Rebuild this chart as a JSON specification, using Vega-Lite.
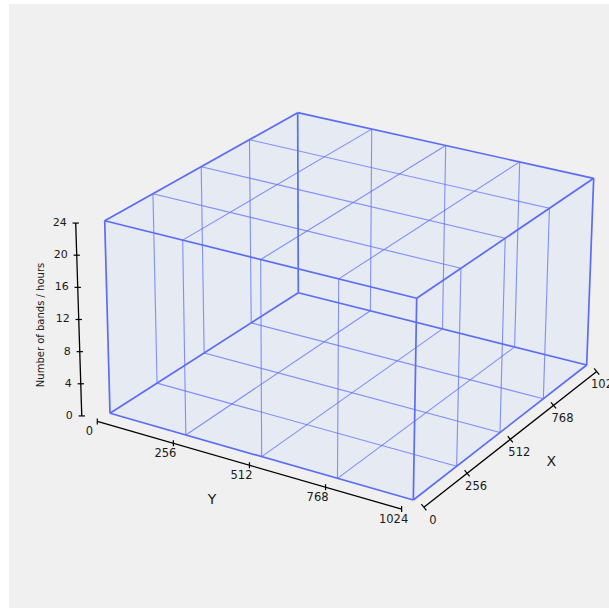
{
  "$schema": "https://vega.github.io/schema/vega-lite/v6.json",
  "width": 600,
  "height": 604,
  "autosize": {"type": "none"},
  "padding": {"left": 9, "top": 4, "right": 0, "bottom": 0},
  "background": "white",
  "view": {"fill": "#f0f0f0", "stroke": null},
  "data": {"values": [
    {"k":"h","o":1,"Y":0,"X":0,"Z":0},
    {"k":"h","o":2,"Y":1024,"X":0,"Z":0},
    {"k":"h","o":3,"Y":1024,"X":1024,"Z":0},
    {"k":"h","o":4,"Y":1024,"X":1024,"Z":24},
    {"k":"h","o":5,"Y":0,"X":1024,"Z":24},
    {"k":"h","o":6,"Y":0,"X":0,"Z":24},

    {"k":"e","Y":0,"X":0,"Z":0,"Y2":1024,"X2":0,"Z2":0},
    {"k":"e","Y":1024,"X":0,"Z":0,"Y2":1024,"X2":1024,"Z2":0},
    {"k":"e","Y":1024,"X":1024,"Z":0,"Y2":0,"X2":1024,"Z2":0},
    {"k":"e","Y":0,"X":1024,"Z":0,"Y2":0,"X2":0,"Z2":0},
    {"k":"e","Y":0,"X":0,"Z":24,"Y2":1024,"X2":0,"Z2":24},
    {"k":"e","Y":1024,"X":0,"Z":24,"Y2":1024,"X2":1024,"Z2":24},
    {"k":"e","Y":1024,"X":1024,"Z":24,"Y2":0,"X2":1024,"Z2":24},
    {"k":"e","Y":0,"X":1024,"Z":24,"Y2":0,"X2":0,"Z2":24},
    {"k":"e","Y":0,"X":0,"Z":0,"Y2":0,"X2":0,"Z2":24},
    {"k":"e","Y":1024,"X":0,"Z":0,"Y2":1024,"X2":0,"Z2":24},
    {"k":"e","Y":1024,"X":1024,"Z":0,"Y2":1024,"X2":1024,"Z2":24},
    {"k":"e","Y":0,"X":1024,"Z":0,"Y2":0,"X2":1024,"Z2":24},

    {"k":"g","Y":256,"X":0,"Z":0,"Y2":256,"X2":1024,"Z2":0},
    {"k":"g","Y":512,"X":0,"Z":0,"Y2":512,"X2":1024,"Z2":0},
    {"k":"g","Y":768,"X":0,"Z":0,"Y2":768,"X2":1024,"Z2":0},
    {"k":"g","Y":0,"X":256,"Z":0,"Y2":1024,"X2":256,"Z2":0},
    {"k":"g","Y":0,"X":512,"Z":0,"Y2":1024,"X2":512,"Z2":0},
    {"k":"g","Y":0,"X":768,"Z":0,"Y2":1024,"X2":768,"Z2":0},
    {"k":"g","Y":256,"X":0,"Z":24,"Y2":256,"X2":1024,"Z2":24},
    {"k":"g","Y":512,"X":0,"Z":24,"Y2":512,"X2":1024,"Z2":24},
    {"k":"g","Y":768,"X":0,"Z":24,"Y2":768,"X2":1024,"Z2":24},
    {"k":"g","Y":0,"X":256,"Z":24,"Y2":1024,"X2":256,"Z2":24},
    {"k":"g","Y":0,"X":512,"Z":24,"Y2":1024,"X2":512,"Z2":24},
    {"k":"g","Y":0,"X":768,"Z":24,"Y2":1024,"X2":768,"Z2":24},
    {"k":"g","Y":256,"X":0,"Z":0,"Y2":256,"X2":0,"Z2":24},
    {"k":"g","Y":512,"X":0,"Z":0,"Y2":512,"X2":0,"Z2":24},
    {"k":"g","Y":768,"X":0,"Z":0,"Y2":768,"X2":0,"Z2":24},
    {"k":"g","Y":256,"X":1024,"Z":0,"Y2":256,"X2":1024,"Z2":24},
    {"k":"g","Y":512,"X":1024,"Z":0,"Y2":512,"X2":1024,"Z2":24},
    {"k":"g","Y":768,"X":1024,"Z":0,"Y2":768,"X2":1024,"Z2":24},
    {"k":"g","Y":0,"X":256,"Z":0,"Y2":0,"X2":256,"Z2":24},
    {"k":"g","Y":0,"X":512,"Z":0,"Y2":0,"X2":512,"Z2":24},
    {"k":"g","Y":0,"X":768,"Z":0,"Y2":0,"X2":768,"Z2":24},
    {"k":"g","Y":1024,"X":256,"Z":0,"Y2":1024,"X2":256,"Z2":24},
    {"k":"g","Y":1024,"X":512,"Z":0,"Y2":1024,"X2":512,"Z2":24},
    {"k":"g","Y":1024,"X":768,"Z":0,"Y2":1024,"X2":768,"Z2":24},

    {"k":"a","Y":-56,"X":-63,"Z":0,"Y2":-56,"X2":-63,"Z2":24},
    {"k":"a","Y":0,"X":-69,"Z":0,"Y2":1024,"X2":-69,"Z2":0},
    {"k":"a","Y":1060,"X":0,"Z":-0.5,"Y2":1060,"X2":1024,"Z2":-0.5},

    {"k":"zt","t":"0","Y":-56,"X":-63,"Z":0},
    {"k":"zt","t":"4","Y":-56,"X":-63,"Z":4},
    {"k":"zt","t":"8","Y":-56,"X":-63,"Z":8},
    {"k":"zt","t":"12","Y":-56,"X":-63,"Z":12},
    {"k":"zt","t":"16","Y":-56,"X":-63,"Z":16},
    {"k":"zt","t":"20","Y":-56,"X":-63,"Z":20},
    {"k":"zt","t":"24","Y":-56,"X":-63,"Z":24},
    {"k":"yt","t":"0","Y":0,"X":-69,"Z":0},
    {"k":"yt","t":"256","Y":256,"X":-69,"Z":0},
    {"k":"yt","t":"512","Y":512,"X":-69,"Z":0},
    {"k":"yt","t":"768","Y":768,"X":-69,"Z":0},
    {"k":"yt","t":"1024","Y":1024,"X":-69,"Z":0},
    {"k":"xt","t":"0","Y":1060,"X":0,"Z":-0.5},
    {"k":"xt","t":"256","Y":1060,"X":256,"Z":-0.5},
    {"k":"xt","t":"512","Y":1060,"X":512,"Z":-0.5},
    {"k":"xt","t":"768","Y":1060,"X":768,"Z":-0.5},
    {"k":"xt","t":"1024","Y":1060,"X":1024,"Z":-0.5},

    {"k":"zT","t":"Number of bands / hours","Y":-56,"X":-63,"Z":12},
    {"k":"yT","t":"Y","Y":512,"X":-69,"Z":0},
    {"k":"xT","t":"X","Y":1060,"X":512,"Z":-0.5}
  ]},
  "transform": [
    {"calculate": "datum.Y/1024", "as": "u"},
    {"calculate": "datum.X/1024", "as": "v"},
    {"calculate": "datum.Z/24", "as": "w"},
    {"calculate": "datum.Y2/1024", "as": "u2"},
    {"calculate": "datum.X2/1024", "as": "v2"},
    {"calculate": "datum.Z2/24", "as": "w2"},
    {"calculate": "(1-datum.w)*((1-datum.u)*(1-datum.v)*110+datum.u*(1-datum.v)*413.3+datum.u*datum.v*586.7+(1-datum.u)*datum.v*298.3)+datum.w*((1-datum.u)*(1-datum.v)*104.7+datum.u*(1-datum.v)*416.7+datum.u*datum.v*593.7+(1-datum.u)*datum.v*297.7)", "as": "px"},
    {"calculate": "(1-datum.w)*((1-datum.u)*(1-datum.v)*413.3+datum.u*(1-datum.v)*500+datum.u*datum.v*365+(1-datum.u)*datum.v*292.7)+datum.w*((1-datum.u)*(1-datum.v)*220.7+datum.u*(1-datum.v)*298.3+datum.u*datum.v*178.3+(1-datum.u)*datum.v*112.7)", "as": "py"},
    {"calculate": "(1-datum.w2)*((1-datum.u2)*(1-datum.v2)*110+datum.u2*(1-datum.v2)*413.3+datum.u2*datum.v2*586.7+(1-datum.u2)*datum.v2*298.3)+datum.w2*((1-datum.u2)*(1-datum.v2)*104.7+datum.u2*(1-datum.v2)*416.7+datum.u2*datum.v2*593.7+(1-datum.u2)*datum.v2*297.7)", "as": "px2"},
    {"calculate": "(1-datum.w2)*((1-datum.u2)*(1-datum.v2)*413.3+datum.u2*(1-datum.v2)*500+datum.u2*datum.v2*365+(1-datum.u2)*datum.v2*292.7)+datum.w2*((1-datum.u2)*(1-datum.v2)*220.7+datum.u2*(1-datum.v2)*298.3+datum.u2*datum.v2*178.3+(1-datum.u2)*datum.v2*112.7)", "as": "py2"}
  ],
  "encoding": {
    "x": {"field": "px", "type": "quantitative", "axis": null, "scale": {"domain": [9, 609], "nice": false, "zero": false}},
    "y": {"field": "py", "type": "quantitative", "axis": null, "scale": {"domain": [4, 608], "nice": false, "zero": false, "reverse": true}}
  },
  "layer": [
    {
      "transform": [{"filter": "datum.k === 'h'"}],
      "mark": {"type": "line", "fill": "#e5eaf3", "stroke": null, "strokeWidth": 0, "interpolate": "linear-closed"},
      "encoding": {"order": {"field": "o", "type": "quantitative"}}
    },
    {
      "transform": [{"filter": "datum.k === 'g'"}],
      "mark": {"type": "rule", "color": "#5f70f7", "strokeWidth": 1.1, "opacity": 0.75},
      "encoding": {"x2": {"field": "px2"}, "y2": {"field": "py2"}}
    },
    {
      "transform": [{"filter": "datum.k === 'e'"}],
      "mark": {"type": "rule", "color": "#5b6cf6", "strokeWidth": 1.7},
      "encoding": {"x2": {"field": "px2"}, "y2": {"field": "py2"}}
    },
    {
      "transform": [{"filter": "datum.k === 'a'"}],
      "mark": {"type": "rule", "color": "#000000", "strokeWidth": 1.3},
      "encoding": {"x2": {"field": "px2"}, "y2": {"field": "py2"}}
    },
    {
      "transform": [{"filter": "datum.k === 'zt'"}],
      "mark": {"type": "point", "shape": "M-1,0L1,0", "size": 40, "filled": false, "stroke": "#000000", "strokeWidth": 1.2, "opacity": 1}
    },
    {
      "transform": [{"filter": "datum.k === 'yt'"}],
      "mark": {"type": "point", "shape": "M0,-1L0,1", "size": 36, "filled": false, "stroke": "#000000", "strokeWidth": 1.2, "opacity": 1}
    },
    {
      "transform": [{"filter": "datum.k === 'xt'"}],
      "mark": {"type": "point", "shape": "M-1,0L1,0", "angle": 50.6, "size": 64, "filled": false, "stroke": "#000000", "strokeWidth": 1.2, "opacity": 1}
    },
    {
      "transform": [{"filter": "datum.k === 'zt'"}],
      "mark": {"type": "text", "align": "right", "baseline": "middle", "dx": -9, "font": "DejaVu Sans", "fontSize": 11, "color": "#1a1a1a"},
      "encoding": {"text": {"field": "t"}}
    },
    {
      "transform": [{"filter": "datum.k === 'yt'"}],
      "mark": {"type": "text", "align": "center", "baseline": "middle", "dx": -8, "dy": 10.5, "font": "DejaVu Sans", "fontSize": 11.5, "color": "#1a1a1a"},
      "encoding": {"text": {"field": "t"}}
    },
    {
      "transform": [{"filter": "datum.k === 'xt'"}],
      "mark": {"type": "text", "align": "center", "baseline": "middle", "dx": 9, "dy": 14, "font": "DejaVu Sans", "fontSize": 11.5, "color": "#1a1a1a"},
      "encoding": {"text": {"field": "t"}}
    },
    {
      "transform": [{"filter": "datum.k === 'zT'"}],
      "mark": {"type": "text", "align": "center", "baseline": "middle", "angle": 270, "dx": -5.5, "dy": -38, "font": "DejaVu Sans", "fontSize": 10, "color": "#1a1a1a"},
      "encoding": {"text": {"field": "t"}}
    },
    {
      "transform": [{"filter": "datum.k === 'yT'"}],
      "mark": {"type": "text", "align": "center", "baseline": "middle", "dx": -37.5, "dy": 35, "font": "DejaVu Sans", "fontSize": 14, "color": "#1a1a1a"},
      "encoding": {"text": {"field": "t"}}
    },
    {
      "transform": [{"filter": "datum.k === 'xT'"}],
      "mark": {"type": "text", "align": "center", "baseline": "middle", "dx": 41, "dy": 22.5, "font": "DejaVu Sans", "fontSize": 14, "color": "#1a1a1a"},
      "encoding": {"text": {"field": "t"}}
    }
  ]
}
